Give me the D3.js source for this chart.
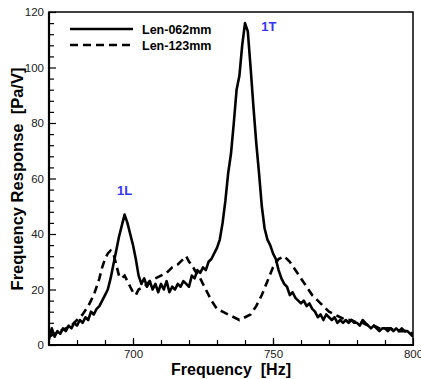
<!DOCTYPE html>
<html><head><meta charset="utf-8">
<script src="https://cdn.jsdelivr.net/npm/d3@7/dist/d3.min.js"></script>
<style>body{margin:0;background:#fff}svg{display:block}text{font-family:"Liberation Sans",Arial,sans-serif}</style>
</head><body>
<script>
const freqStart = 670;
const solidValues = [2,6,3,5,4,6,5,7,6,8,7,9,8,10,9,12,11,13,14,16,18,20,24,29,34,39,43,47,44,40,36,31,25,22,24,21,23,20,22,19,22,20,23,19,21,20,22,21,23,22,21,25,24,27,26,28,27,30,31,33,35,38,44,52,62,69,80,92,97,108,116,113,100,86,73,62,50,42,38,36,33,31,27,24,22,21,18,19,17,16,15,16,14,15,13,12,10,11,9,11,10,9,10,8,9,8,9,8,9,8,8,7,9,8,7,6,7,6,5,6,6,5,6,5,6,5,6,5,5,4,3];
const dashFreq = [670,672,674,676,678,680,682,684,686,688,689,690,691,692,693,694,695,696,697,698,699,700,701,702,704,706,708,710,712,714,716,718,719,720,721,722,724,726,728,730,732,734,736,738,740,742,744,746,748,750,752,754,756,758,760,762,764,766,768,770,772,774,776,778,780,782,784,786,788,790,792,794,796,798,800];
const dashValues = [3,4,5,6,7,9,11,14,18,24,28,31,33,34,33,29,25,24,25,23,21,19,18,20,21,23,24,25,26,28,29,31,32,30,29,27,24,20,16,13,12,11,10,9,10,11,14,18,23,28,31,32,30,27,24,21,18,16,14,12,11,10,9,9,8,8,7,7,6,6,6,5,5,5,4];
const xTicks = [700,750,800];
const yTicks = [0,20,40,60,80,100,120];
const seriesNames = ["Len-062mm","Len-123mm"];
const peakLabels = [{t:"1L",f:697,v:54},{t:"1T",f:748.5,v:113}];

const W=421,H=379, L=49,R=413,T=12,B=345;
const svg=d3.select("body").append("svg").attr("width",W).attr("height",H);
const x=d3.scaleLinear().domain([670,800]).range([L,R]);
const y=d3.scaleLinear().domain([0,120]).range([B,T]);

svg.append("defs").append("clipPath").attr("id","c").append("rect").attr("x",L).attr("y",T).attr("width",R-L).attr("height",B-T);

const line=d3.line().x(d=>x(d[0])).y(d=>y(d[1]));
const solid=solidValues.map((v,i)=>[freqStart+i,v]);
const dash=dashFreq.map((f,i)=>[f,dashValues[i]]);
const g=svg.append("g").attr("clip-path","url(#c)");
g.append("path").datum(dash).attr("d",line).attr("fill","none").attr("stroke","#000").attr("stroke-width",2.6).attr("stroke-dasharray","8,5");
g.append("path").datum(solid).attr("d",line).attr("fill","none").attr("stroke","#000").attr("stroke-width",2.6).attr("stroke-linejoin","round");

// frame
svg.append("rect").attr("x",L).attr("y",T).attr("width",R-L).attr("height",B-T).attr("fill","none").attr("stroke","#000").attr("stroke-width",1.5);
svg.append("line").attr("x1",L).attr("x2",L).attr("y1",T).attr("y2",B+1).attr("stroke","#000").attr("stroke-width",2.2);
svg.append("line").attr("x1",L-1).attr("x2",R+1).attr("y1",B).attr("y2",B).attr("stroke","#000").attr("stroke-width",2.2);

// axes
const xa=svg.append("g").attr("transform",`translate(0,${B})`);
xa.call(d3.axisBottom(x).tickValues(d3.range(680,800,10)).tickSize(-5).tickFormat(""));
xa.call(g=>g.select(".domain").remove());
const xl=svg.append("g").attr("transform",`translate(0,${B})`).call(d3.axisBottom(x).tickValues(xTicks).tickSize(-7).tickPadding(5).tickFormat(d3.format("d")));
xl.select(".domain").remove();
const ya=svg.append("g").attr("transform",`translate(${L},0)`);
ya.call(d3.axisLeft(y).tickValues(d3.range(4,120,4).filter(v=>v%20)).tickSize(-5).tickFormat(""));
ya.select(".domain").remove();
const yl=svg.append("g").attr("transform",`translate(${L},0)`).call(d3.axisLeft(y).tickValues(yTicks).tickSize(-7).tickPadding(5).tickFormat(d3.format("d")));
yl.select(".domain").remove();
svg.selectAll(".tick line").attr("stroke","#000").attr("stroke-width",1.2);
svg.selectAll(".tick text").attr("font-size",11.5).attr("fill","#222").attr("font-family","Liberation Sans, Arial, sans-serif");

// titles
svg.append("text").attr("x",231).attr("y",375).attr("text-anchor","middle").attr("font-size",16).attr("font-weight","bold").attr("xml:space","preserve").text("Frequency  [Hz]");
svg.append("text").attr("transform","translate(23,179) rotate(-90)").attr("text-anchor","middle").attr("font-size",16.5).attr("font-weight","bold").attr("xml:space","preserve").text("Frequency Response  [Pa/V]");

// legend
const leg=[[29,null],[45,"8,5"]];
seriesNames.forEach((n,i)=>{
  const yy=leg[i][0];
  const l=svg.append("line").attr("x1",70).attr("x2",133).attr("y1",yy).attr("y2",yy).attr("stroke","#000").attr("stroke-width",2.6);
  if(leg[i][1]) l.attr("stroke-dasharray",leg[i][1]);
  svg.append("text").attr("x",142).attr("y",yy+4.5).attr("font-size",12.5).attr("font-weight","bold").text(n);
});

// peak labels
peakLabels.forEach(p=>{
  svg.append("text").attr("x",x(p.f)).attr("y",y(p.v)).attr("font-size",13).attr("font-weight","bold").attr("fill","#3535f5").attr("text-anchor","middle").text(p.t);
});
</script>
</body></html>
